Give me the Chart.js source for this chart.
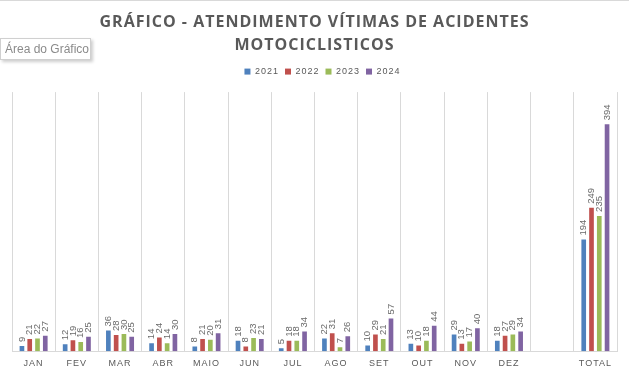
<!DOCTYPE html>
<html>
<head>
<meta charset="utf-8">
<script src="https://cdn.jsdelivr.net/npm/chart.js@4/dist/chart.umd.min.js"></script>
<style>
html,body{margin:0;padding:0;background:#fff;}
#wrap{position:relative;width:629px;height:374px;}
#tip{position:absolute;left:0;top:38px;width:91px;height:22px;border:1px solid #d0d0d0;background:#fff;box-shadow:2px 2px 3px rgba(0,0,0,0.2);font:12px "Liberation Sans",Arial,sans-serif;color:#8a8a8a;line-height:21px;padding-left:4px;box-sizing:border-box;}
#topline{position:absolute;left:0;top:0;width:629px;height:1px;background:#d9d9d9;}
</style>
</head>
<body>
<div id="wrap">
<canvas id="c" width="629" height="374"></canvas>
<div id="topline"></div>
<div id="tip">Área do Gráfico</div>
</div>
<script>
const categories = ['JAN','FEV','MAR','ABR','MAIO','JUN','JUL','AGO','SET','OUT','NOV','DEZ','','TOTAL'];
const seriesNames = ['2021','2022','2023','2024'];
const v2021 = [9,12,36,14,8,18,5,22,10,13,29,18,null,194];
const v2022 = [21,19,28,24,21,8,18,31,29,10,13,27,null,249];
const v2023 = [22,16,30,14,20,23,18,7,21,18,17,29,null,235];
const v2024 = [27,25,25,30,31,21,34,26,57,44,40,34,null,394];
const colors = ['#4F81BD','#C0504D','#9BBB59','#8064A2'];
const titleLines = ['GRÁFICO - ATENDIMENTO VÍTIMAS DE ACIDENTES','MOTOCICLISTICOS'];

const allValues = [v2021,v2022,v2023,v2024];

const spacingPlugin = {
  id:'spacing',
  beforeDraw(chart){ chart.ctx.letterSpacing='1px'; },
  afterDraw(chart){ chart.ctx.letterSpacing='0px'; }
};

const labelPlugin = {
  id:'barLabels',
  afterDatasetsDraw(chart){
    const ctx = chart.ctx;
    ctx.save();
    ctx.letterSpacing='0px';
    ctx.font = '9.5px "Liberation Sans", Arial, sans-serif';
    ctx.fillStyle = '#6a6a6a';
    ctx.textAlign = 'left';
    ctx.textBaseline = 'middle';
    chart.data.datasets.forEach((ds,i)=>{
      const meta = chart.getDatasetMeta(i);
      meta.data.forEach((bar,j)=>{
        const v = ds.data[j];
        if(v===null||v===undefined) return;
        ctx.save();
        ctx.translate(bar.x, bar.y-4);
        ctx.rotate(-Math.PI/2);
        ctx.fillText(String(v),0,0);
        ctx.restore();
      });
    });
    ctx.restore();
  }
};

new Chart(document.getElementById('c'),{
  type:'bar',
  data:{
    labels:categories,
    datasets:seriesNames.map((n,i)=>({
      label:n,
      data:allValues[i],
      backgroundColor:colors[i],
      borderWidth:0,
      categoryPercentage:0.72,
      barPercentage:0.6
    }))
  },
  options:{
    responsive:false,
    animation:false,
    events:[],
    layout:{padding:{left:12,right:12,top:0,bottom:-2}},
    plugins:{
      tooltip:{enabled:false},
      title:{
        display:true,
        text:titleLines,
        color:'#595959',
        font:{family:'"Open Sans", sans-serif',size:16,weight:'bold',lineHeight:1.44},
        padding:{top:11,bottom:4}
      },
      legend:{
        display:true,
        position:'top',
        labels:{
          color:'#595959',
          font:{family:'"Liberation Sans", Arial, sans-serif',size:9},
          boxWidth:6,boxHeight:6,padding:6
        }
      }
    },
    scales:{
      x:{
        grid:{display:true,offset:true,color:'#d9d9d9',drawTicks:false},
        border:{display:true,color:'#d9d9d9'},
        ticks:{color:'#595959',font:{family:'"Liberation Sans", Arial, sans-serif',size:9},padding:7,maxRotation:0,autoSkip:false}
      },
      xTop:{
        type:'category',
        position:'top',
        display:true,
        grid:{display:false,drawTicks:false},
        border:{display:false},
        ticks:{display:false},
        afterFit(scale){ scale.height = 6; }
      },
      y:{display:false,min:0,max:450}
    }
  },
  plugins:[spacingPlugin,labelPlugin]
});
</script>
</body>
</html>
